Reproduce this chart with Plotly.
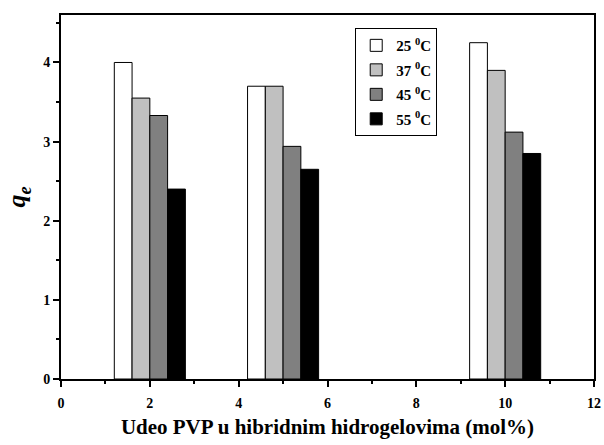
import plotly.graph_objects as go

# PVP content (mol%) and q_e at each temperature
pvp = [2, 5, 10]
temps = ['25', '37', '45', '55']
qe_25 = [4.00, 3.70, 4.25]
qe_37 = [3.55, 3.70, 3.90]
qe_45 = [3.33, 2.94, 3.12]
qe_55 = [2.40, 2.65, 2.85]

series = [qe_25, qe_37, qe_45, qe_55]
colors = ['white', '#c0c0c0', '#808080', 'black']
offsets = [-0.8, -0.4, 0.0, 0.4]

font = 'Liberation Serif, Times New Roman, serif'

fig = go.Figure()
for t, vals, c, off in zip(temps, series, colors, offsets):
    fig.add_trace(go.Bar(x=pvp, y=vals, name=f'{t} <sup>0</sup>C', legendgroup=t,
                         width=0.4, offset=off, marker_color=c,
                         marker_line=dict(color='black', width=1)))

axis_common = dict(showline=True, linecolor='black', linewidth=2, mirror=True,
                   ticks='outside', ticklen=6, tickwidth=2, tickcolor='black',
                   showgrid=False, zeroline=False, automargin=False,
                   tickfont=dict(family=font, size=14, color='black', weight='bold'))

fig.update_xaxes(range=[0, 12], dtick=2, tick0=0, ticklabelstandoff=4,
                 minor=dict(dtick=1, ticks='outside', ticklen=3, tickwidth=2, tickcolor='black'),
                 title=dict(text='Udeo PVP u hibridnim hidrogelovima (mol%)', standoff=10,
                            font=dict(family=font, size=21, color='black', weight='bold')),
                 **axis_common)
fig.update_yaxes(range=[0, 4.6], dtick=1, tick0=0,
                 minor=dict(dtick=0.5, ticks='outside', ticklen=3, tickwidth=2, tickcolor='black'),
                 title=dict(text='<i>q<sub>e</sub></i>', standoff=10,
                            font=dict(family=font, size=26, color='black', weight='bold')),
                 **axis_common)

fig.update_layout(
    width=604, height=445,
    margin=dict(l=61, r=10, t=15, b=66),
    plot_bgcolor='white', paper_bgcolor='white',
    barmode='overlay',
    legend=dict(x=0.552, y=0.964, xanchor='left', yanchor='top',
                bordercolor='black', borderwidth=1, bgcolor='white',
                font=dict(family=font, size=15, color='black', weight='bold'),
                tracegroupgap=2),
    showlegend=True,
)

fig.write_html("out.html", config={'displayModeBar': False},
               post_script="document.body.style.margin='0';")
